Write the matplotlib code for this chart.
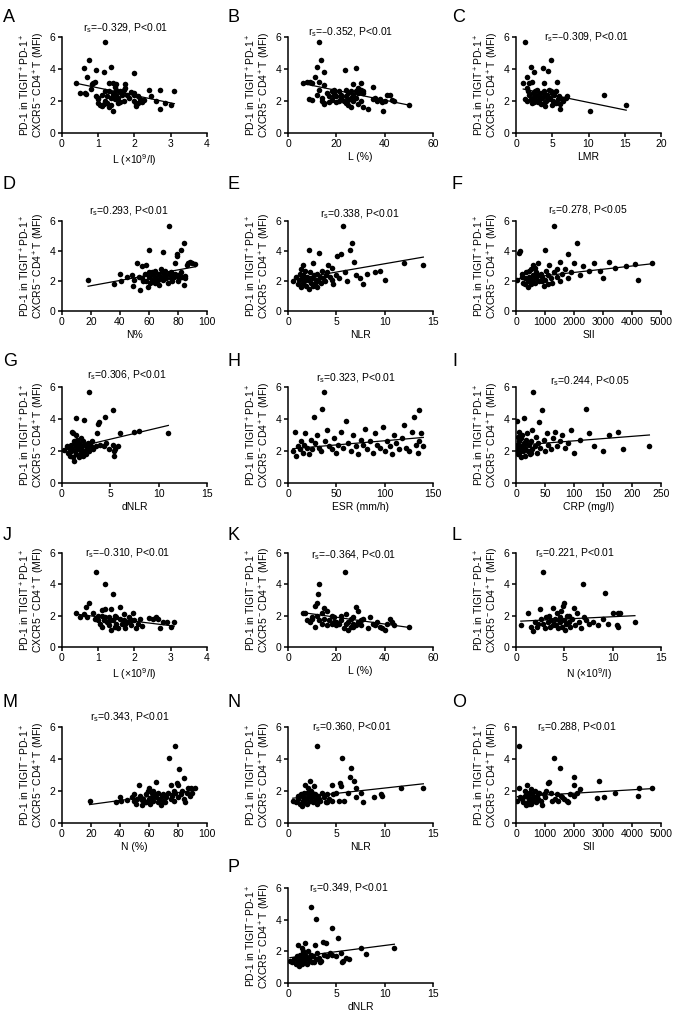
import matplotlib
matplotlib.use("Agg")
import matplotlib.pyplot as plt
import numpy as np

plt.rcParams['font.family'] = ['Liberation Sans', 'DejaVu Sans']
plt.rcParams['mathtext.default'] = 'regular'

# ---- data (one x/y list per panel) ----
a_x = [0.4, 0.5, 0.65, 0.6, 0.7, 0.83, 0.75, 0.95, 1.35, 1.15, 2.0, 1.2, 0.85, 0.9, 1.3, 1.4, 1.5, 1.75,
       0.64, 0.8, 0.95, 1.0, 1.0, 1.05, 1.1, 1.15, 1.2, 1.25, 1.3, 1.35, 1.35, 1.4, 1.4, 1.45, 1.5, 1.5,
       1.55, 1.6, 1.6, 1.65, 1.7, 1.7, 1.75, 1.8, 1.85, 1.9, 2.0, 2.0, 2.05, 2.05, 2.1, 2.1, 2.15, 2.2,
       2.25, 2.4, 2.45, 2.6, 2.7, 2.7, 2.85, 3.0, 3.1, 1.1, 1.2, 1.45, 1.25, 1.55, 1.3, 1.6, 1.0, 1.4, 2.0]
a_y = [3.15, 2.5, 2.45, 4.05, 3.5, 3.08, 4.55, 3.95, 4.1, 3.8, 3.75, 5.7, 3.15, 3.2, 3.1, 3.1, 3.05, 3.05,
       2.5, 2.75, 2.3, 2.1, 1.9, 1.75, 1.7, 1.8, 2.0, 2.3, 2.6, 2.2, 1.75, 1.4, 2.5, 2.1, 2.4, 2.7,
       2.2, 1.95, 2.6, 2.35, 2.7, 2.0, 2.8, 2.4, 2.2, 2.55, 2.5, 2.0, 1.8, 1.7, 1.9, 2.3, 2.1, 1.95,
       2.05, 2.7, 2.3, 2.0, 2.7, 1.5, 1.9, 1.75, 2.65, 2.4, 2.65, 2.9, 1.9, 1.85, 1.65, 2.55, 2.2, 2.35, 2.4]
a_fit = (-0.47, 3.29)

b_x = [6, 8, 9, 10, 8.5, 10, 11, 12, 13, 13.5, 14, 12, 13, 13, 15, 15, 15, 15, 16, 17, 18, 18, 19, 19,
       20, 20, 21, 22, 22, 23, 23.5, 24, 24, 25, 25, 26, 26, 27, 27, 27, 28, 28, 28, 29, 29, 29, 30, 30,
       30, 31, 31, 31, 33, 35, 35, 36, 37, 38, 39, 39.5, 40, 41, 42, 43, 44, 50, 17, 21, 24, 26, 14, 19, 25]
b_y = [3.15, 3.2, 3.2, 3.15, 2.1, 2.05, 3.5, 4.1, 5.7, 4.55, 2.2, 2.4, 2.7, 3.2, 3.8, 3.0, 1.8, 1.9, 2.5,
       2.3, 2.6, 2.05, 2.5, 2.7, 1.95, 2.3, 2.6, 2.2, 2.4, 2.0, 3.95, 2.7, 2.3, 1.75, 2.5, 2.2, 1.6, 3.05,
       2.4, 2.0, 4.05, 2.6, 2.2, 2.8, 1.8, 2.5, 3.15, 2.7, 2.0, 2.5, 2.6, 1.6, 1.5, 2.85, 2.1, 2.2, 2.0,
       2.1, 1.95, 1.4, 2.0, 2.4, 2.35, 2.05, 2.0, 1.75, 1.95, 2.0, 1.9, 2.6, 2.0, 2.3, 2.05]
b_fit = (-0.0307, 3.28)

c_x = [1.2, 1.0, 1.5, 1.7, 1.3, 1.5, 2.0, 1.8, 2.2, 2.3, 2.5, 2.6, 2.5, 2.8, 2.9, 3.0, 3.2, 3.4, 3.5, 3.6,
       3.7, 3.8, 3.9, 4.0, 4.1, 4.2, 4.3, 4.4, 4.5, 4.6, 4.7, 4.8, 4.9, 5.0, 5.1, 5.2, 5.3, 5.5, 5.6, 5.8,
       6.0, 6.1, 6.3, 6.5, 6.9, 7.0, 10.2, 12.1, 15.2, 1.8, 2.0, 2.2, 3.0, 3.3, 4.0, 4.8, 5.5, 2.7, 3.8,
       5.9, 1.5, 2.4]
c_y = [5.7, 3.15, 3.5, 2.6, 2.1, 2.0, 4.1, 3.15, 3.2, 2.2, 3.8, 2.6, 1.95, 2.3, 2.7, 1.95, 2.05, 2.5, 1.8,
       2.2, 4.05, 2.6, 3.1, 1.7, 2.3, 2.0, 2.4, 3.9, 2.1, 2.7, 2.2, 4.55, 1.75, 2.5, 2.0, 2.35, 1.9, 2.6,
       3.2, 2.1, 1.8, 1.5, 2.1, 2.0, 2.2, 2.3, 1.4, 2.35, 1.75, 2.4, 2.1, 1.85, 2.4, 2.2, 2.4, 2.6, 1.85,
       2.0, 1.9, 2.3, 2.8, 2.5]
c_fit = (-0.093, 2.84)

d_x = [18, 36, 40, 41, 45, 48, 49, 50, 52, 53, 54, 55, 56, 57, 58, 59, 60, 60, 61, 62, 62, 63, 64, 64, 65,
       66, 67, 68, 69, 70, 70, 71, 72, 73, 74, 74, 75, 76, 77, 78, 78, 79, 79, 80, 81, 82, 82, 83, 84, 84,
       85, 86, 87, 88, 90, 92, 66, 58, 63, 71, 75, 80, 68, 60, 55, 85, 76]
d_y = [2.05, 1.8, 2.5, 2.0, 2.3, 2.4, 1.7, 2.1, 3.2, 2.3, 1.4, 3.0, 2.0, 2.5, 3.1, 1.6, 4.05, 2.3, 1.85,
       2.6, 2.1, 2.4, 2.7, 1.9, 2.2, 2.5, 1.75, 2.3, 2.6, 3.95, 2.05, 2.7, 2.2, 1.9, 5.7, 2.5, 2.6, 2.0,
       2.3, 3.2, 2.5, 3.8, 3.7, 2.0, 2.2, 2.6, 4.1, 2.3, 4.55, 1.75, 2.2, 3.1, 3.2, 3.25, 3.2, 3.15, 2.1,
       2.0, 2.0, 2.4, 2.2, 2.4, 2.8, 2.6, 2.2, 2.35, 2.45]
d_fit = (0.01757, 1.334)

e_x = [0.5, 0.8, 1.0, 1.1, 1.2, 1.3, 1.4, 1.5, 1.5, 1.6, 1.7, 1.8, 1.9, 2.0, 2.1, 2.2, 2.2, 2.3, 2.4, 2.5,
       2.6, 2.7, 2.8, 2.9, 3.0, 3.1, 3.2, 3.3, 3.4, 3.5, 3.6, 3.8, 4.0, 4.1, 4.3, 4.5, 4.7, 5.0, 5.1, 5.3,
       5.5, 5.7, 5.9, 6.1, 6.4, 6.6, 6.8, 7.0, 7.4, 7.8, 8.2, 9.0, 9.5, 10.0, 12.0, 14.0, 3.9, 1.8, 2.6,
       4.5, 3.0, 1.3]
e_y = [2.0, 2.3, 1.8, 2.1, 2.5, 1.6, 2.2, 3.1, 1.9, 2.4, 2.0, 2.7, 1.7, 2.3, 2.1, 4.05, 1.5, 2.6, 1.9, 2.2,
       3.2, 2.4, 1.8, 2.1, 2.5, 2.0, 3.9, 2.3, 1.9, 2.7, 2.2, 2.0, 2.6, 3.1, 2.3, 2.1, 1.8, 2.4, 3.7, 2.2,
       3.8, 5.7, 2.6, 2.0, 4.1, 4.55, 3.3, 2.4, 2.2, 1.8, 2.5, 2.6, 2.7, 2.1, 3.2, 3.1, 2.4, 2.3, 1.7, 2.9,
       1.6, 2.8]
e_fit = (0.111, 2.04)

f_x = [50, 100, 150, 200, 250, 300, 350, 400, 400, 450, 500, 500, 550, 600, 600, 650, 700, 700, 750, 800,
       850, 900, 950, 1000, 1000, 1050, 1100, 1150, 1200, 1250, 1300, 1300, 1400, 1500, 1500, 1600, 1700,
       1800, 1800, 1900, 2000, 2100, 2200, 2300, 2500, 2700, 2900, 3000, 3200, 3400, 3800, 4100, 4200,
       4700, 300, 650, 900, 1100, 200, 750, 450, 1400]
f_y = [2.1, 3.9, 4.0, 2.5, 1.9, 2.2, 2.6, 1.6, 2.0, 2.3, 2.8, 1.8, 2.1, 2.4, 3.1, 1.9, 2.2, 2.6, 3.2, 2.0,
       2.5, 2.3, 1.7, 4.1, 2.1, 2.7, 2.4, 3.1, 2.2, 1.9, 5.7, 2.6, 2.3, 3.3, 2.0, 2.5, 2.8, 3.8, 2.2, 2.6,
       3.2, 4.55, 2.4, 3.0, 2.7, 3.2, 2.7, 2.2, 3.3, 2.9, 3.0, 3.15, 2.1, 3.2, 1.8, 2.9, 2.0, 1.8, 2.3, 2.4,
       2.7, 2.8]
f_fit = (0.000215, 2.14)

g_x = [0.2, 0.5, 0.6, 0.7, 0.8, 0.9, 1.0, 1.0, 1.1, 1.1, 1.2, 1.2, 1.3, 1.4, 1.4, 1.5, 1.5, 1.6, 1.7, 1.8,
       1.8, 1.9, 2.0, 2.0, 2.1, 2.2, 2.3, 2.3, 2.4, 2.5, 2.6, 2.7, 2.8, 2.8, 3.0, 3.1, 3.2, 3.5, 3.6, 3.7,
       3.8, 3.9, 4.3, 4.5, 4.6, 4.9, 5.3, 5.3, 5.4, 5.4, 5.5, 5.8, 6.0, 7.4, 8.0, 11.0, 1.6, 2.2, 0.9, 2.9,
       1.3, 2.0]
g_y = [2.05, 2.3, 1.9, 2.2, 1.7, 2.4, 3.2, 2.1, 1.6, 3.1, 2.6, 1.4, 2.0, 4.05, 3.0, 2.3, 1.8, 2.7, 2.1, 2.5,
       1.6, 2.2, 2.8, 1.9, 2.3, 2.6, 3.95, 2.0, 2.4, 1.8, 2.2, 2.5, 5.7, 2.0, 2.3, 2.6, 2.1, 2.3, 3.1, 3.7,
       3.8, 2.4, 2.3, 4.1, 2.5, 2.1, 4.55, 2.4, 2.0, 1.7, 2.1, 2.3, 3.15, 3.2, 3.25, 3.15, 2.3, 1.7, 2.0, 2.4,
       2.5, 2.1]
g_fit = (0.1435, 2.02)

h_x = [5, 7, 8, 10, 12, 13, 15, 17, 18, 20, 22, 24, 25, 27, 28, 30, 32, 34, 35, 37, 38, 40, 42, 45, 48, 50,
       52, 55, 57, 60, 62, 65, 67, 70, 72, 75, 78, 80, 82, 85, 88, 90, 92, 95, 98, 100, 102, 105, 108, 110,
       112, 115, 118, 120, 122, 125, 128, 130, 132, 134, 135, 136, 138, 140]
h_y = [2.0, 3.2, 1.7, 2.3, 2.1, 2.6, 1.9, 2.4, 3.1, 2.2, 1.8, 2.7, 2.1, 4.1, 2.5, 3.0, 2.2, 2.0, 4.6, 5.7,
       2.6, 3.3, 2.3, 2.1, 2.8, 1.9, 2.4, 3.2, 2.2, 3.9, 2.5, 2.0, 3.0, 2.3, 1.8, 2.7, 2.4, 3.4, 2.1, 2.6,
       1.9, 3.1, 2.4, 2.2, 3.5, 2.0, 2.6, 2.3, 1.8, 3.0, 2.5, 2.1, 2.8, 3.6, 2.2, 2.0, 3.2, 4.1, 2.4, 1.9,
       4.55, 2.6, 3.1, 2.3]
h_fit = (0.0052, 2.12)

i_x = [1, 2, 2, 3, 4, 5, 5, 6, 7, 8, 9, 10, 11, 12, 13, 14, 15, 16, 18, 19, 20, 22, 24, 25, 27, 28, 30, 32,
       34, 36, 38, 40, 42, 45, 48, 50, 53, 56, 60, 63, 67, 70, 75, 80, 85, 90, 95, 100, 110, 120, 125, 135,
       150, 160, 175, 185, 230, 3, 8, 17, 26]
i_y = [2.0, 3.9, 2.4, 1.8, 2.2, 2.6, 3.2, 1.9, 2.1, 2.8, 1.6, 2.3, 3.0, 2.0, 2.5, 4.05, 1.7, 2.2, 2.7, 3.1,
       2.0, 2.4, 1.8, 2.6, 3.3, 2.1, 5.7, 2.3, 2.9, 1.9, 2.5, 3.8, 2.2, 4.55, 2.7, 2.0, 3.1, 2.4, 2.1, 2.8,
       3.2, 2.3, 2.6, 3.0, 2.2, 2.5, 3.3, 1.9, 2.7, 4.6, 3.1, 2.3, 2.0, 3.0, 3.2, 2.1, 2.3, 2.9, 2.3, 2.5, 1.9]
i_fit = (0.00283, 2.35)

j_x = [0.4, 0.5, 0.6, 0.65, 0.7, 0.75, 0.85, 0.9, 0.95, 1.0, 1.05, 1.1, 1.1, 1.15, 1.2, 1.2, 1.25, 1.3, 1.3,
       1.35, 1.35, 1.4, 1.4, 1.45, 1.5, 1.5, 1.55, 1.6, 1.6, 1.65, 1.7, 1.7, 1.75, 1.8, 1.85, 1.9, 1.95, 2.0,
       2.05, 2.1, 2.15, 2.2, 2.4, 2.5, 2.6, 2.65, 2.7, 2.8, 2.9, 3.0, 3.1, 1.0, 1.2, 1.45, 1.75, 1.1, 1.9, 1.3]
j_y = [2.2, 1.9, 2.1, 2.55, 1.9, 2.8, 2.2, 1.8, 4.8, 2.0, 1.5, 2.35, 1.3, 1.75, 4.05, 2.4, 1.6, 1.9, 1.4,
       2.4, 1.1, 3.4, 1.7, 1.3, 1.9, 1.5, 1.2, 1.8, 2.55, 1.5, 1.7, 2.1, 1.2, 1.6, 1.9, 1.4, 2.2, 1.7, 1.2,
       1.5, 1.8, 1.35, 1.85, 1.8, 1.9, 1.8, 1.2, 1.6, 1.6, 1.3, 1.6, 1.7, 1.9, 2.0, 1.5, 2.0, 1.7, 1.65]
j_fit = (-0.283, 2.21)

k_x = [6, 7, 8, 9, 10, 11, 11, 12, 12, 12.5, 13, 13, 14, 14, 15, 15, 16, 16, 17, 18, 18, 19, 20, 20, 21, 22,
       22, 23, 23.5, 24, 24, 25, 25, 26, 26, 27, 27, 28, 28, 29, 29, 30, 30, 31, 33, 34, 35, 36, 37, 38, 39,
       40, 41, 42, 43, 44, 50, 10, 19, 27]
k_y = [2.2, 2.2, 1.7, 1.6, 1.9, 1.3, 2.6, 2.0, 2.8, 3.4, 4.05, 1.7, 1.5, 2.2, 2.5, 1.8, 1.4, 2.3, 1.7, 1.5,
       2.0, 1.9, 1.4, 1.6, 1.5, 1.7, 2.0, 1.2, 4.8, 2.1, 1.5, 1.1, 1.6, 1.3, 1.8, 1.5, 1.9, 2.55, 1.4, 1.6,
       2.3, 1.4, 1.7, 1.8, 1.2, 1.9, 1.5, 1.4, 1.6, 1.3, 1.2, 1.1, 1.5, 1.8, 1.6, 1.4, 1.25, 1.8, 1.6, 1.3]
k_fit = (-0.0216, 2.33)

l_x = [0.5, 1.2, 1.5, 1.8, 2.0, 2.2, 2.5, 2.6, 2.8, 2.8, 3.0, 3.1, 3.3, 3.4, 3.5, 3.6, 3.8, 3.9, 4.0, 4.1,
       4.2, 4.3, 4.5, 4.6, 4.7, 4.8, 4.9, 5.0, 5.0, 5.1, 5.2, 5.3, 5.5, 5.6, 5.8, 6.0, 6.1, 6.3, 6.5, 6.7,
       6.9, 7.0, 7.2, 7.5, 8.0, 8.5, 9.0, 9.2, 9.5, 10.0, 10.4, 10.5, 10.6, 10.8, 12.3, 3.8, 5.5, 4.4, 2.3]
l_y = [1.4, 2.2, 1.3, 1.05, 1.6, 1.3, 2.4, 1.8, 4.8, 1.5, 1.2, 1.9, 1.6, 2.0, 1.3, 1.7, 2.5, 1.5, 1.8, 1.4,
       2.2, 1.2, 1.9, 1.6, 2.3, 1.3, 2.6, 2.8, 1.7, 1.1, 1.5, 2.0, 1.6, 1.3, 1.8, 2.5, 1.4, 2.2, 1.6, 1.2,
       4.05, 1.9, 1.7, 1.5, 1.6, 1.4, 1.8, 3.45, 1.5, 2.2, 1.4, 1.3, 2.2, 2.2, 1.6, 1.4, 2.0, 1.7, 1.5]
l_fit = (0.0297, 1.635)

m_x = [19, 37, 40, 41, 45, 48, 50, 50, 51, 52, 53, 54, 55, 56, 57, 58, 59, 60, 60, 61, 62, 62, 63, 64, 65,
       65, 66, 67, 68, 69, 70, 71, 72, 73, 74, 75, 75, 76, 77, 78, 79, 80, 80, 81, 82, 83, 84, 84, 85, 86,
       87, 88, 89, 90, 92, 63, 70, 77, 58, 66, 55, 78]
m_y = [1.4, 1.3, 1.65, 1.4, 1.45, 1.6, 1.35, 1.8, 1.2, 1.5, 2.4, 1.7, 1.1, 1.5, 1.3, 1.8, 2.0, 2.2, 1.5,
       1.2, 1.9, 1.6, 1.4, 1.8, 2.55, 1.6, 1.3, 1.5, 1.1, 1.7, 1.8, 1.3, 1.6, 1.9, 4.05, 2.35, 1.5, 1.7,
       1.4, 1.9, 2.5, 2.4, 1.6, 3.4, 1.8, 2.0, 2.8, 1.5, 1.3, 1.9, 2.2, 1.7, 2.2, 1.9, 2.2, 2.0, 1.4, 2.0,
       1.3, 1.9, 1.45, 4.8]
m_fit = (0.01233, 0.916)

n_x = [0.5, 0.8, 1.0, 1.2, 1.3, 1.4, 1.5, 1.6, 1.7, 1.8, 1.9, 2.0, 2.1, 2.2, 2.3, 2.3, 2.4, 2.5, 2.6, 2.7,
       2.8, 2.9, 3.0, 3.0, 3.1, 3.3, 3.5, 3.7, 3.9, 4.0, 4.2, 4.5, 4.5, 4.7, 5.0, 5.3, 5.4, 5.5, 5.6, 5.8,
       6.2, 6.4, 6.5, 6.8, 7.0, 7.0, 7.5, 7.8, 8.9, 9.6, 9.7, 11.7, 14.0, 1.0, 2.0, 3.2, 4.0, 1.5, 2.5]
n_y = [1.4, 1.3, 1.5, 1.2, 1.8, 1.05, 1.6, 1.3, 1.9, 2.4, 1.5, 1.2, 2.2, 1.7, 2.6, 1.4, 2.0, 1.6, 1.3, 2.3,
       1.8, 1.5, 4.8, 1.2, 1.7, 1.4, 1.9, 1.6, 1.3, 1.8, 1.5, 2.4, 1.4, 1.8, 1.9, 1.35, 2.5, 2.3, 4.05, 1.4,
       1.9, 2.85, 3.45, 2.6, 2.2, 1.6, 1.9, 1.3, 1.6, 1.8, 1.7, 2.2, 2.2, 1.7, 1.9, 1.5, 1.3, 1.4, 1.9]
n_fit = (0.0667, 1.517)

o_x = [50, 100, 120, 200, 250, 300, 320, 350, 380, 400, 430, 450, 480, 500, 530, 560, 600, 620, 650, 700,
       720, 750, 800, 850, 900, 950, 1000, 1050, 1100, 1150, 1200, 1250, 1300, 1350, 1400, 1450, 1500,
       1550, 1600, 1650, 1750, 1800, 1850, 2000, 2000, 2000, 2100, 2200, 2800, 2850, 3050, 3400, 4200,
       4250, 4700, 350, 550, 750, 150, 450]
o_y = [1.4, 4.8, 2.2, 1.5, 1.3, 1.7, 2.0, 1.1, 2.4, 1.6, 1.3, 1.9, 1.5, 2.1, 1.2, 1.8, 1.4, 1.6, 2.0, 1.3,
       1.7, 1.5, 1.9, 1.4, 1.1, 1.8, 1.6, 2.0, 2.5, 2.55, 1.9, 1.4, 4.05, 1.5, 1.8, 1.4, 3.45, 1.7, 1.6,
       1.5, 1.4, 1.3, 1.8, 2.85, 2.4, 1.7, 1.9, 2.15, 1.55, 2.6, 1.65, 1.85, 1.7, 2.2, 2.2, 1.7, 1.5, 1.9,
       1.6, 1.2]
o_fit = (0.0001075, 1.645)

p_x = [0.2, 0.4, 0.6, 0.8, 0.9, 1.0, 1.0, 1.1, 1.2, 1.3, 1.4, 1.4, 1.5, 1.6, 1.7, 1.8, 1.8, 1.9, 2.0, 2.1,
       2.2, 2.3, 2.4, 2.4, 2.5, 2.6, 2.8, 2.9, 2.9, 3.0, 3.2, 3.4, 3.6, 3.7, 3.9, 4.0, 4.3, 4.5, 4.6, 5.0,
       5.2, 5.5, 5.6, 5.7, 6.0, 6.3, 7.5, 8.1, 11.0, 1.2, 2.0, 2.7, 1.6, 3.3]
p_y = [1.4, 1.3, 1.5, 1.2, 1.7, 1.4, 2.4, 1.1, 1.8, 1.5, 2.2, 1.2, 1.9, 1.6, 1.3, 2.5, 1.8, 1.5, 1.2, 2.0,
       1.6, 1.4, 4.8, 1.8, 1.3, 1.7, 2.4, 4.05, 1.5, 1.9, 1.6, 1.4, 2.6, 1.8, 2.5, 1.7, 1.9, 3.45, 1.8, 1.7,
       2.85, 1.9, 1.35, 1.4, 1.6, 1.5, 2.2, 1.85, 2.2, 1.4, 1.6, 1.3, 2.0, 1.3]
p_fit = (0.0787, 1.584)

letters = list("ABCDEFGHIJKLMNOP")
rs_text = ['–0.329, P<0.01', '–0.352, P<0.01', '–0.309, P<0.01', '0.293, P<0.01',
           '0.338, P<0.01', '0.278, P<0.05', '0.306, P<0.01', '0.323, P<0.01',
           '0.244, P<0.05', '–0.310, P<0.01', '–0.364, P<0.01', '0.221, P<0.01',
           '0.343, P<0.01', '0.360, P<0.01', '0.288, P<0.01', '0.349, P<0.01']
x_labels = ['L (×10$^9$/l)', 'L (%)', 'LMR', 'N%', 'NLR', 'SII', 'dNLR', 'ESR (mm/h)',
            'CRP (mg/l)', 'L (×10$^9$/l)', 'L (%)', 'N (×10$^9$/l)', 'N (%)', 'NLR', 'SII', 'dNLR']
x_max = [4, 60, 20, 100, 15, 5000, 15, 150, 250, 4, 60, 15, 100, 15, 5000, 15]
x_step = [1, 20, 5, 20, 5, 1000, 5, 50, 50, 1, 20, 5, 20, 5, 1000, 5]
# TIGIT sign in the y label of each panel
tigit_sign = ['+'] * 10 + ['-'] * 6

xs = [a_x, b_x, c_x, d_x, e_x, f_x, g_x, h_x, i_x, j_x, k_x, l_x, m_x, n_x, o_x, p_x]
ys = [a_y, b_y, c_y, d_y, e_y, f_y, g_y, h_y, i_y, j_y, k_y, l_y, m_y, n_y, o_y, p_y]
fits = [a_fit, b_fit, c_fit, d_fit, e_fit, f_fit, g_fit, h_fit, i_fit, j_fit, k_fit, l_fit,
        m_fit, n_fit, o_fit, p_fit]

# ---- layout in pixels ----
W, H = 677, 1015
row_top = [37, 221, 387, 553, 727, 888]
row_bot = [133, 311, 483, 647, 823, 983]
col_left = [62, 288, 516]
ax_w = 145
letter_top = [9, 176, 353, 527, 694, 859]
letter_x = [3, 227, 452]
# annotation anchor (axes fraction) per panel
ann_x = [0.44, 0.43, 0.49, 0.46, 0.50, 0.50, 0.45, 0.47, 0.51, 0.45, 0.45, 0.41, 0.47, 0.44, 0.42, 0.42]
ann_y = [1.09, 1.05, 1.00, 1.11, 1.08, 1.12, 1.12, 1.09, 1.06, 1.00, 0.98, 1.00, 1.10, 1.00, 1.00, 1.00]

fig = plt.figure(figsize=(W / 100, H / 100), dpi=100)
fs = 7.5

for k in range(16):
    r, c = divmod(k, 3)
    if k == 15:
        r, c = 5, 1
    left = col_left[c]
    ax = fig.add_axes([left / W, 1 - row_bot[r] / H, ax_w / W, (row_bot[r] - row_top[r]) / H])

    x = np.array(xs[k])
    y = np.array(ys[k])
    ax.scatter(x, y, s=16, color='black', zorder=3, linewidths=0)
    slope, icpt = fits[k]
    xl = np.array([x.min(), x.max()])
    ax.plot(xl, slope * xl + icpt, color='black', lw=0.9, zorder=2)

    ax.set_xlim(0, x_max[k])
    ax.set_ylim(0, 6)
    ax.set_xticks(np.arange(0, x_max[k] + 1e-9, x_step[k]))
    ax.set_yticks([0, 2, 4, 6])
    for s in ['top', 'right']:
        ax.spines[s].set_visible(False)
    for s in ['left', 'bottom']:
        ax.spines[s].set_linewidth(1.1)
    ax.tick_params(direction='out', length=3, width=1.1, labelsize=fs, pad=1.5)
    ax.set_xlabel(x_labels[k], fontsize=fs, labelpad=2)
    sign = tigit_sign[k]
    ax.set_ylabel('PD-1 in TIGIT$^' + sign + '$PD-1$^+$\nCXCR5$^-$CD4$^+$T (MFI)',
                  fontsize=fs, labelpad=2, linespacing=1.0)
    ax.text(ann_x[k], ann_y[k], 'r$_s$=' + rs_text[k], transform=ax.transAxes,
            ha='center', va='center', fontsize=fs)

    lx = letter_x[c]
    fig.text(lx / W, 1 - letter_top[r] / H, letters[k], fontsize=13, ha='left', va='top')

fig.savefig('out.png', dpi=100)
